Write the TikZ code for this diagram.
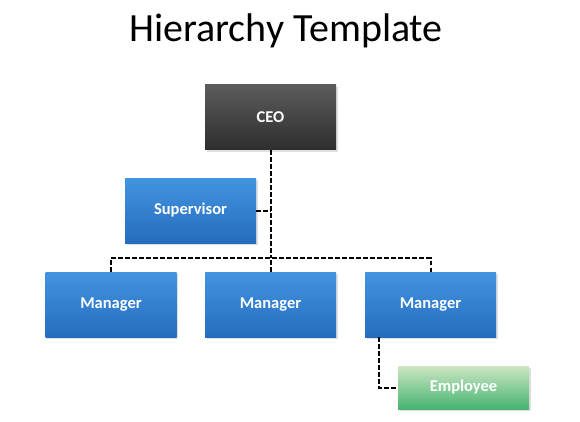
\documentclass[tikz,border=0pt]{standalone}
\usepackage{fontspec}
\setmainfont{Carlito}
\usetikzlibrary{shadows}
\definecolor{bluetop}{RGB}{66,148,224}
\definecolor{bluebot}{RGB}{38,108,190}
\definecolor{ceotop}{RGB}{92,92,92}
\definecolor{ceobot}{RGB}{45,45,45}
\definecolor{emptop}{RGB}{205,230,195}
\definecolor{empbot}{RGB}{70,180,115}
\begin{document}
\begin{tikzpicture}[x=1pt,y=-1pt,
  box/.style={minimum width=131pt,minimum height=65pt,inner sep=0pt,
    font=\bfseries\fontsize{16.5}{19}\selectfont,text=white,
    drop shadow={shadow xshift=1.5pt,shadow yshift=-2pt,opacity=0.25}},
  bluebox/.style={box,top color=bluetop,bottom color=bluebot},
  ceobox/.style={box,top color=ceotop,bottom color=ceobot},
  empbox/.style={box,minimum height=43pt,top color=emptop,bottom color=empbot},
  conn/.style={draw=black,line width=2pt,dash pattern=on 4.5pt off 2.5pt}]
\useasboundingbox (0,0) rectangle (580,422);
\node (title) at (286,31) {\fontsize{40}{48}\selectfont Hierarchy Template};
\node[ceobox] (ceo) at (270.5,117.5) {CEO};
\node[bluebox] (sup) at (190.5,210.5) {Supervisor};
\node[bluebox] (m1) at (111,304.5) {Manager};
\node[bluebox] (m2) at (270.5,304.5) {Manager};
\node[bluebox] (m3) at (430.5,304.5) {Manager};
\node[empbox] (emp) at (463.5,387.5) {Employee};
\coordinate (j) at (270,258);
\draw[conn] (ceo.south) -- (ceo.south |- j);
\draw[conn] (sup.east) -- (sup.east -| ceo.south);
\draw[conn] (m1.north) -- (m1.north |- j) -- (m3.north |- j) -- (m3.north);
\draw[conn] (m2.north) -- (m2.north |- j);
\draw[conn] ([xshift=-52pt]m3.south) |- (emp.west);
\end{tikzpicture}
\end{document}
